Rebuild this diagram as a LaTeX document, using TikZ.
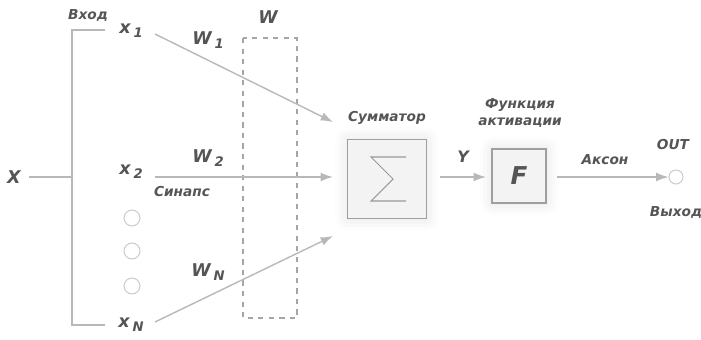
\documentclass[tikz,border=0pt]{standalone}
\usepackage{fontspec}
\setmainfont{DejaVu Sans}
\usetikzlibrary{arrows.meta,positioning,shadows.blur}

\definecolor{txtgray}{HTML}{555555}
\definecolor{linegray}{HTML}{B8B8B8}
\definecolor{boxgray}{HTML}{F3F3F3}

\tikzset{
  lbl/.style={text=txtgray, font=\fontsize{7.8}{9.5}\selectfont\bfseries\itshape, inner sep=1pt, align=center},
  sym/.style={text=txtgray, font=\fontsize{10}{11}\selectfont\bfseries\itshape, inner sep=1pt},
  conn/.style={draw=linegray, line width=0.8pt},
  arr/.style={conn, -{Latex[length=7pt,width=5pt]}},
  block/.style={draw=gray!75, fill=boxgray, line width=0.6pt, inner sep=0pt,
    blur shadow={shadow xshift=0pt, shadow yshift=0pt, shadow blur radius=7pt, shadow opacity=12}},
  dot/.style={circle, draw=gray!40, line width=0.6pt, fill=white, inner sep=0pt, minimum size=0.32cm}
}

\newcommand{\sub}[1]{\raisebox{-0.45ex}{\fontsize{7.5}{8}\selectfont #1}}

\begin{document}
\begin{tikzpicture}[x=0.02cm, y=-0.02cm]
  \useasboundingbox (0,0) rectangle (701,339);

  % inputs
  \node[sym] (X) at (14,177) {X};
  \node[lbl] (vhod) at (88,15) {Вход};
  \node[sym] (x1) at (131,31) {x\,\sub{1}};
  \node[sym] (x2) at (131,172) {x\,\sub{2}};
  \node[sym] (xN) at (131,325) {x\,\sub{N}};
  \node[dot] (d1) at (132,218) {};
  \node[dot] (d2) at (132,251) {};
  \node[dot] (d3) at (132,286) {};

  % bracket
  \coordinate (btop) at (105,30);
  \coordinate (bbot) at (105,325);
  \coordinate (bmid) at (72,177);
  \draw[conn] (btop) -- (72,30) -- (72,325) -- (bbot);
  \draw[conn] (X.east) ++(6,0) -- (bmid);

  % weights
  \draw[linegray!90!black, dashed, line width=0.7pt] (243,38) rectangle (297,318);
  \node[sym] (W) at (268,17) {W};
  \node[sym] (w1) at (208,40) {W\,\sub{1}};
  \node[sym] (w2) at (208,158) {W\,\sub{2}};
  \node[sym] (wN) at (208,272) {W\,\sub{N}};
  \node[lbl] (sinaps) at (182,192) {Синапс};

  % summator
  \node[block, minimum size=1.58cm] (sum) at (387,179) {};
  \draw[gray!80, line width=0.6pt] ([shift={(19,-22)}]sum.center) -- ++(-35,0) -- ++(22,22) -- ++(-22,22) -- ++(35,0);
  \node[lbl] (sumlbl) at (387,118) {Сумматор};

  % synapse arrows
  \coordinate (s1) at (155,34);
  \coordinate (s2) at (155,177);
  \coordinate (sN) at (155,322);
  \coordinate (e1) at (333,122);
  \coordinate (e2) at (333,177);
  \coordinate (eN) at (333,236);
  \draw[arr] (s1) -- (e1);
  \draw[arr] (s2) -- (e2);
  \draw[arr] (sN) -- (eN);

  % activation
  \node[block, minimum size=1.08cm] (act) at (519,176) {};
  \node[text=txtgray, font=\fontsize{14}{15}\selectfont\bfseries\itshape] (F) at (act) {F};
  \node[lbl] (actlbl) at (520,113) {Функция\\активации};
  \coordinate (y0) at (440,177);
  \coordinate (y1) at (486,177);
  \draw[arr] (y0) -- (y1);
  \node[lbl] (Y) at (463,157) {\fontsize{9}{10}\selectfont Y};

  % output
  \node[dot, minimum size=0.28cm] (out) at (676,177) {};
  \coordinate (a0) at (557,177);
  \draw[arr] (a0) -- (out.west);
  \node[lbl] (akson) at (605,160) {Аксон};
  \node[lbl] (outlbl) at (673,145) {OUT};
  \node[lbl] (vyhod) at (676,212) {Выход};
\end{tikzpicture}
\end{document}
